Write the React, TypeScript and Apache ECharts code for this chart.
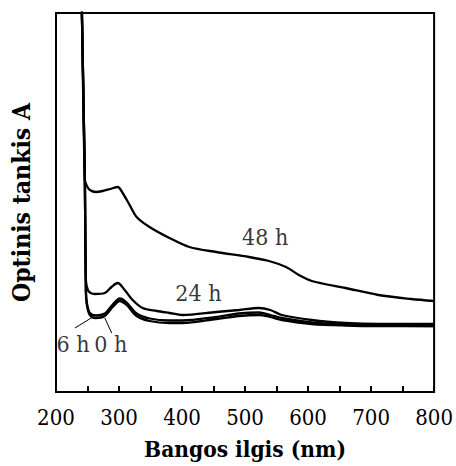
import React, { useEffect, useRef } from "react";
import * as echarts from "echarts";

// wavelength (nm) / optical density (arbitrary units)
const wl48 = [240, 241.1, 245.8, 249, 253.7, 263.2, 274.2, 286, 297.9, 305.8, 316.8, 327.9, 348.4, 380, 411.6, 454.2, 506.3, 537.9, 565, 585.3, 605.8, 659.5, 711.6, 763.7, 800];
const v48 = [4.2, 3.79, 2.12, 2.06, 2.02, 2.0, 2.01, 2.03, 2.05, 1.99, 1.87, 1.75, 1.65, 1.54, 1.45, 1.4, 1.35, 1.31, 1.25, 1.17, 1.11, 1.04, 0.97, 0.93, 0.91];

const wl24 = [240, 241.1, 245.8, 247.4, 250.5, 255, 261.6, 277.4, 288, 297.9, 309, 321.6, 337.4, 360, 380, 400.5, 454.2, 490.5, 522.1, 540, 558.4, 605.8, 659.5, 711.6, 800];
const v24 = [4.2, 3.79, 2.12, 1.12, 1.02, 0.99, 0.98, 0.99, 1.05, 1.09, 1.02, 0.92, 0.84, 0.81, 0.79, 0.77, 0.8, 0.82, 0.84, 0.82, 0.77, 0.72, 0.69, 0.68, 0.68];

const wl0 = [240, 241.1, 245.8, 247.4, 249, 253.7, 263.2, 277.4, 290, 301.1, 312.1, 327.9, 348.4, 380, 400.5, 454.2, 490, 522.1, 540, 558.4, 605.8, 659.5, 711.6, 800];
const v0 = [4.2, 3.79, 2.12, 1.0, 0.87, 0.77, 0.74, 0.76, 0.85, 0.91, 0.87, 0.76, 0.71, 0.69, 0.69, 0.73, 0.76, 0.77, 0.75, 0.72, 0.68, 0.665, 0.66, 0.66];
const v6 = [4.2, 3.79, 2.12, 1.02, 0.89, 0.79, 0.765, 0.785, 0.875, 0.935, 0.895, 0.785, 0.735, 0.715, 0.715, 0.75, 0.785, 0.795, 0.77, 0.74, 0.695, 0.675, 0.665, 0.66];

const curveLabels = ["48 h", "24 h", "6 h", "0 h"];
const labelX = [532, 426, 227, 287];
const labelY = [1.55, 0.99, 0.48, 0.48];

const leader6 = [[230, 0.64], [258.4, 0.75]];
const leader0 = [[288.4, 0.59], [277.4, 0.74]];

const xTicks = [200, 300, 400, 500, 600, 700, 800];

const FONT = "DejaVu Serif Condensed";

function pairs(xs: number[], ys: number[]) {
  return xs.map((x, i) => [x, ys[i]]);
}

export default function App() {
  const ref = useRef<HTMLDivElement>(null);
  useEffect(() => {
    if (!ref.current) return;
    const chart = echarts.init(ref.current, null, { renderer: "svg" });
    const lineBase = {
      type: "line" as const,
      showSymbol: false,
      symbol: "none",
      smooth: 0.3,
      clip: true,
      lineStyle: { color: "#000", width: 2.3 },
    };
    chart.setOption({
      animation: false,
      backgroundColor: "#fff",
      grid: {
        left: 56,
        right: 20,
        top: 13,
        bottom: 74,
        show: true,
        borderColor: "#000",
        borderWidth: 2,
        backgroundColor: "transparent",
      },
      xAxis: {
        type: "value",
        min: 200,
        max: 800,
        interval: 100,
        name: "Bangos ilgis (nm)",
        nameLocation: "middle",
        nameGap: 45,
        nameTextStyle: { fontFamily: FONT, fontWeight: "bold", fontSize: 22.5, color: "#000" },
        axisLine: { show: true, lineStyle: { color: "#000", width: 2 } },
        axisTick: { show: true, inside: true, length: 6, lineStyle: { color: "#000", width: 2 } },
        minorTick: { show: true, splitNumber: 2, length: 6, lineStyle: { color: "#000", width: 2 } },
        splitLine: { show: false },
        axisLabel: {
          fontFamily: FONT,
          fontSize: 22,
          color: "#000",
          margin: 14,
          customValues: xTicks,
          formatter: (v: number) => String(v),
        },
      },
      yAxis: {
        type: "value",
        min: 0,
        max: 3.79,
        name: "Optinis tankis A",
        nameLocation: "middle",
        nameGap: 22,
        nameRotate: 90,
        nameTextStyle: { fontFamily: FONT, fontWeight: "bold", fontSize: 24.5, color: "#000" },
        axisLine: { show: true, lineStyle: { color: "#000", width: 2 } },
        axisTick: { show: false },
        axisLabel: { show: false },
        splitLine: { show: false },
      },
      series: [
        { ...lineBase, name: "48 h", data: pairs(wl48, v48) },
        { ...lineBase, name: "24 h", data: pairs(wl24, v24) },
        {
          ...lineBase,
          name: "6 h",
          data: pairs(wl0, v6),
          markLine: {
            silent: true,
            symbol: "none",
            label: { show: false },
            lineStyle: { color: "#000", width: 1, type: "solid" },
            data: [
              [{ coord: leader6[0] }, { coord: leader6[1] }],
              [{ coord: leader0[0] }, { coord: leader0[1] }],
            ],
          },
        },
        { ...lineBase, name: "0 h", data: pairs(wl0, v0) },
        {
          type: "scatter",
          symbolSize: 0,
          silent: true,
          data: curveLabels.map((t, i) => ({ value: [labelX[i], labelY[i]], name: t })),
          label: {
            show: true,
            position: "inside",
            formatter: (p: any) => p.name,
            fontFamily: FONT,
            fontSize: 23,
            color: "#000",
          },
        },
      ],
    });
    return () => chart.dispose();
  }, []);
  return (
    <div
      ref={ref}
      style={{ position: "fixed", left: 0, top: 0, width: 456, height: 466 }}
    />
  );
}
